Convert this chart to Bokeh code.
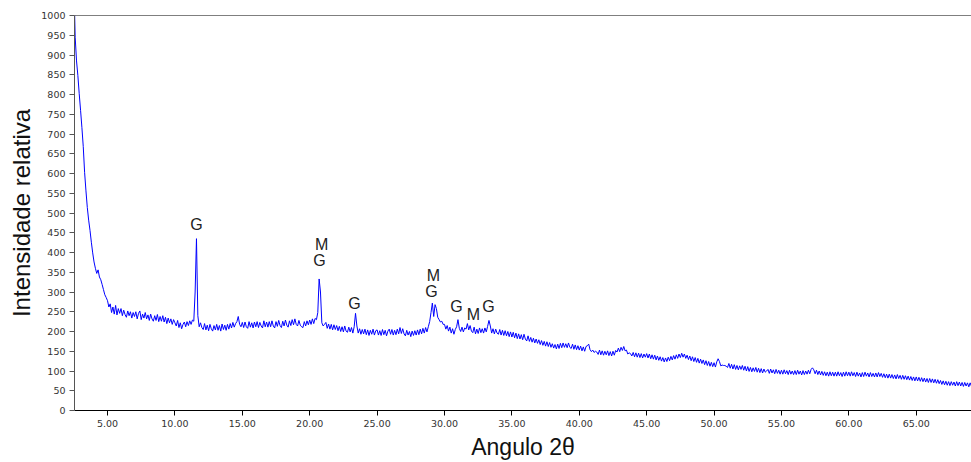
import numpy as np
from bokeh.plotting import figure
from bokeh.models import Range1d, FixedTicker, NumeralTickFormatter, Span, ColumnDataSource
from bokeh.core.properties import value
from bokeh.embed import file_html
from bokeh.resources import INLINE

# ---- data ----
angle_start = 2.5
angle_step = 0.1
intensity = [
    1090, 945, 885, 848, 802,
    760, 716, 668, 603, 556, 514, 482, 456, 426, 399,
    376, 360, 347, 356, 338, 331, 319, 306, 293, 286,
    278, 262, 270, 248, 262, 244, 266, 242, 258, 246,
    258, 240, 254, 243, 236, 252, 240, 250, 234, 248,
    238, 250, 232, 246, 252, 230, 244, 234, 248, 232,
    242, 228, 244, 232, 226, 240, 228, 243, 225, 238,
    226, 240, 224, 236, 220, 234, 222, 232, 218, 230,
    222, 214, 228, 210, 222, 207, 218, 224, 212, 225,
    215, 227, 218, 229, 226, 300, 435, 240, 212, 222,
    210, 205, 220, 204, 216, 202, 218, 207, 201, 215,
    204, 218, 203, 215, 201, 219, 205, 216, 203, 218,
    206, 220, 209, 223, 211, 220, 225, 238, 218, 212,
    223, 210, 224, 212, 208, 225, 211, 222, 209, 224,
    212, 225, 210, 223, 214, 209, 227, 212, 224, 211,
    225, 212, 227, 214, 209, 225, 213, 228, 215, 210,
    226, 214, 229, 216, 211, 227, 215, 230, 217, 232,
    218, 214, 228, 216, 212, 210, 225, 214, 227, 217,
    229, 218, 232, 220, 233, 230, 248, 333, 300, 222,
    214, 218, 223, 208, 219, 206, 218, 204, 217, 205,
    215, 202, 213, 200, 212, 199, 214, 201, 198, 211,
    199, 210, 196, 212, 246, 214, 196, 207, 193, 205,
    194, 206, 192, 204, 190, 203, 193, 206, 191, 202,
    204, 191, 202, 190, 205, 192, 203, 189, 201, 206,
    193, 205, 191, 203, 192, 206, 194, 210, 195, 207,
    194, 189, 203, 191, 200, 187, 201, 190, 202, 191,
    204, 192, 206, 194, 208, 196, 210, 199, 212, 225,
    248, 272, 238, 268, 258, 236, 230, 224, 226, 218,
    218, 206, 215, 201, 211, 196, 207, 193, 205, 212,
    230, 208, 200, 211, 199, 209, 206, 220, 204, 215,
    201, 197, 211, 194, 206, 195, 209, 197, 207, 196,
    209, 199, 213, 228, 214, 196, 207, 194, 206, 196,
    193, 205, 191, 203, 190, 202, 189, 200, 187, 199,
    186, 198, 184, 196, 182, 194, 181, 192, 179, 193,
    181, 176, 189, 175, 185, 173, 183, 171, 181, 170,
    179, 167, 177, 165, 175, 163, 174, 162, 172, 160,
    169, 158, 167, 156, 168, 157, 170, 159, 171, 160,
    169, 159, 171, 160, 157, 168, 155, 166, 154, 164,
    153, 163, 151, 161, 150, 162, 164, 168, 154, 149,
    153, 147, 150, 148, 142, 153, 141, 151, 140, 150,
    141, 151, 139, 149, 138, 150, 140, 152, 148, 158,
    149, 160, 152, 162, 151, 153, 143, 146, 144, 138,
    147, 136, 146, 135, 145, 134, 144, 133, 143, 135,
    144, 133, 143, 131, 141, 130, 140, 128, 138, 127,
    136, 125, 134, 123, 133, 124, 135, 126, 137, 128,
    139, 130, 141, 132, 143, 134, 145, 135, 143, 132,
    140, 129, 138, 126, 136, 124, 134, 122, 132, 120,
    130, 119, 128, 116, 126, 114, 124, 112, 122, 111,
    121, 110, 123, 131, 124, 113, 115, 114, 114, 112,
    109, 119, 107, 117, 105, 116, 104, 114, 103, 113,
    104, 114, 102, 112, 100, 111, 99, 109, 98, 108,
    99, 109, 97, 107, 96, 106, 95, 105, 97, 100,
    104, 94, 105, 95, 103, 93, 104, 94, 102, 92,
    102, 92, 103, 93, 101, 91, 102, 92, 100, 91,
    101, 91, 102, 92, 100, 90, 101, 91, 100, 92,
    102, 93, 104, 108, 103, 93, 102, 91, 100, 90,
    99, 89, 98, 88, 97, 87, 98, 88, 97, 87,
    97, 87, 98, 88, 96, 86, 97, 87, 98, 88,
    97, 87, 98, 88, 96, 86, 97, 87, 95, 85,
    96, 86, 97, 87, 95, 85, 96, 86, 94, 85,
    95, 85, 96, 86, 94, 84, 93, 83, 92, 82,
    92, 82, 91, 81, 90, 80, 91, 81, 89, 79,
    89, 79, 88, 78, 87, 77, 86, 76, 85, 75,
    85, 75, 84, 74, 83, 73, 82, 72, 81, 71,
    81, 71, 80, 70, 79, 69, 78, 68, 76, 66,
    75, 65, 74, 64, 73, 63, 73, 64, 72, 62,
    73, 63, 72, 62, 71, 61, 71, 62, 70, 60,
    70, 61, 69, 60,
]
two_theta = np.round(angle_start + angle_step * np.arange(len(intensity)), 2)

peak_labels = ["G", "M", "G", "G", "M", "G", "G", "M", "G"]
peak_label_x = [11.6, 20.88, 20.73, 23.32, 29.18, 29.04, 30.89, 32.15, 33.26]
peak_label_y = [471, 420, 380, 271, 342, 301, 263, 243, 263]

x_ticks = [5, 10, 15, 20, 25, 30, 35, 40, 45, 50, 55, 60, 65]
y_ticks = list(range(0, 1001, 50))

x_title = "Angulo 2θ"
y_title = "Intensidade relativa"

# ---- figure ----
p = figure(width=971, height=462, output_backend="svg", toolbar_location=None,
           x_range=Range1d(2.55, 69.1), y_range=Range1d(0, 1000),
           min_border_left=74, min_border_right=0, min_border_top=15, min_border_bottom=52)
p.outline_line_color = None
p.grid.visible = False
p.background_fill_color = "white"

p.line(two_theta, intensity, line_color="#0000FF", line_width=1)

src = ColumnDataSource(dict(x=peak_label_x, y=peak_label_y, t=peak_labels))
p.text(x="x", y="y", text="t", source=src, text_font=value("Liberation Sans"),
       text_font_size="16px", text_color="#222222", text_align="center",
       text_baseline="middle")

p.add_layout(Span(location=1000, dimension="width", line_color="black", line_width=1))

xa = p.xaxis[0]
xa.ticker = FixedTicker(ticks=x_ticks)
xa.formatter = NumeralTickFormatter(format="0.00")
xa.axis_line_color = "black"
xa.major_tick_line_color = "black"
xa.major_tick_out = 5
xa.major_tick_in = 0
xa.minor_tick_line_color = None
xa.major_label_text_font = "DejaVu Sans"
xa.major_label_text_font_size = "9.5px"
xa.major_label_text_color = "#333333"
xa.major_label_standoff = 4
xa.axis_label = x_title
xa.axis_label_text_font = "Liberation Sans"
xa.axis_label_text_font_size = "23px"
xa.axis_label_text_font_style = "normal"
xa.axis_label_text_color = "#111111"
xa.axis_label_standoff = 4

ya = p.yaxis[0]
ya.ticker = FixedTicker(ticks=y_ticks)
ya.axis_line_color = "#555555"
ya.major_tick_line_color = "#555555"
ya.major_tick_out = 5
ya.major_tick_in = 0
ya.minor_tick_line_color = None
ya.major_label_text_font = "DejaVu Sans"
ya.major_label_text_font_size = "9.5px"
ya.major_label_text_color = "#333333"
ya.major_label_standoff = 4
ya.axis_label = y_title
ya.axis_label_text_font = "Liberation Sans"
ya.axis_label_text_font_size = "24px"
ya.axis_label_text_font_style = "normal"
ya.axis_label_text_color = "#111111"
ya.axis_label_standoff = 3

open("out.html", "w").write(file_html(p, INLINE))
